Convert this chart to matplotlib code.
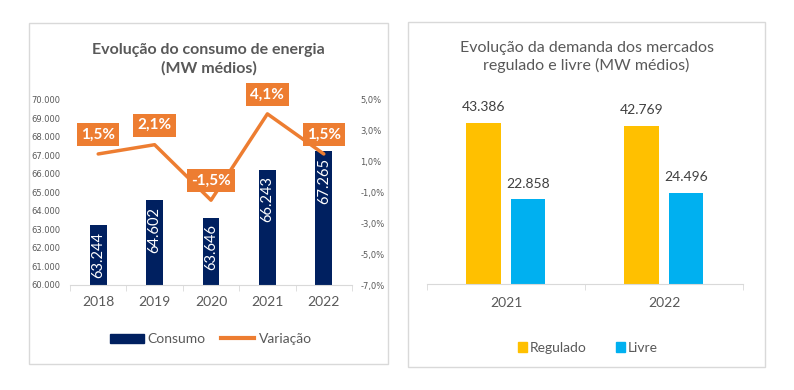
import matplotlib
matplotlib.use("Agg")
import matplotlib.pyplot as plt
from matplotlib.patches import Rectangle, Patch
from matplotlib.lines import Line2D
import numpy as np

plt.rcParams['font.family'] = ['Lato', 'DejaVu Sans']

# data
anos = ["2018", "2019", "2020", "2021", "2022"]
consumo = [63244, 64602, 63646, 66243, 67265]
variacao = [1.5, 2.1, -1.5, 4.1, 1.5]

anos_mercado = ["2021", "2022"]
regulado = [43386, 42769]
livre = [22858, 24496]

NAVY = "#002060"
ORANGE = "#ED7D31"
GOLD = "#FFC000"
BLUE = "#00B0F0"
GRAY = "#595959"
LIGHT = "#D9D9D9"

W, H = 794, 390


def fmt_br(v):
    return f"{v:,.0f}".replace(",", ".")


def fmt_pct(v):
    return f"{v:.1f}%".replace(".", ",")


def px_rect(x0, y0, x1, y1):
    # pixel box (top-left origin) -> figure fraction [l, b, w, h]
    return [x0 / W, 1 - y1 / H, (x1 - x0) / W, (y1 - y0) / H]


fig = plt.figure(figsize=(W / 100, H / 100), dpi=100)

# panel borders
for box in [(29, 23, 388, 364), (408, 22, 765, 367)]:
    l, b, w, h = px_rect(*box)
    fig.add_artist(Rectangle((l, b), w, h, transform=fig.transFigure,
                             fill=False, ec=LIGHT, lw=1))

# ---------- left chart ----------
ax = fig.add_axes(px_rect(70, 100, 352, 285))
x = np.arange(len(anos))
ax.bar(x, consumo, width=0.3, color=NAVY, zorder=2)
ax.set_ylim(60000, 70000)
ax.set_xlim(-0.5, len(anos) - 0.5)
ax.set_yticks(np.arange(60000, 70001, 1000))
ax.set_yticklabels([fmt_br(v) for v in np.arange(60000, 70001, 1000)],
                   fontsize=6, color=GRAY, family="DejaVu Sans")
ax.set_xticks(x)
ax.set_xticklabels(anos, fontsize=10, color=GRAY)
ax.set_xticks(np.arange(-0.5, len(anos), 1), minor=True)
ax.tick_params(axis="x", which="major", length=0, pad=8)
ax.tick_params(axis="x", which="minor", length=4.5, color=LIGHT)
ax.tick_params(axis="y", length=0, pad=7)
for s in ["top", "left", "right"]:
    ax.spines[s].set_visible(False)
ax.spines["bottom"].set_color(LIGHT)

for xi, v in zip(x, consumo):
    ax.annotate(fmt_br(v), (xi, v), xytext=(0, -5), textcoords="offset points",
                rotation=90, ha="center", va="top", color="white", fontsize=10.5)

ax2 = ax.twinx()
ax2.plot(x, variacao, color=ORANGE, lw=2.5, solid_capstyle="round", zorder=3)
ax2.set_ylim(-7, 5)
ax2.set_yticks(np.arange(-7, 5.1, 2))
ax2.set_yticklabels([fmt_pct(v) for v in np.arange(-7, 5.1, 2)],
                    fontsize=6, color=GRAY, family="DejaVu Sans")
ax2.tick_params(axis="y", length=0, pad=6)
for s in ["top", "left", "right", "bottom"]:
    ax2.spines[s].set_visible(False)
for xi, v in zip(x, variacao):
    ax2.annotate(fmt_pct(v), (xi, v), xytext=(0, 14), textcoords="offset points",
                 ha="center", va="center", color="white", fontsize=11,
                 fontweight="bold",
                 bbox=dict(boxstyle="square,pad=0.28", fc=ORANGE, ec="none"))

fig.text(208.5 / W, 1 - 59 / H, "Evolução do consumo de energia\n(MW médios)",
         ha="center", va="center", fontsize=11.5, fontweight="bold",
         color=GRAY, linespacing=1.35)

fig.legend([Patch(color=NAVY), Line2D([], [], color=ORANGE, lw=3)],
           ["Consumo", "Variação"], loc="center",
           bbox_to_anchor=(211 / W, 1 - 339 / H), ncol=2, frameon=False,
           fontsize=10, labelcolor=GRAY, handlelength=2.4, handleheight=0.6,
           handletextpad=0.3, columnspacing=1.1)

# ---------- right chart ----------
bx = fig.add_axes(px_rect(427, 98.8, 743, 284.3))
xm = np.arange(len(anos_mercado))
bx.bar(xm - 0.142, regulado, width=0.218, color=GOLD)
bx.bar(xm + 0.139, livre, width=0.218, color=BLUE)
bx.set_ylim(0, 50000)
bx.set_xlim(-0.5, len(anos_mercado) - 0.5)
bx.set_yticks([])
bx.set_xticks(xm)
bx.set_xticklabels(anos_mercado, fontsize=10, color=GRAY)
bx.set_xticks(np.arange(-0.5, len(anos_mercado), 1), minor=True)
bx.tick_params(axis="x", which="major", length=0, pad=9)
bx.tick_params(axis="x", which="minor", length=4.5, color=LIGHT)
for s in ["top", "left", "right"]:
    bx.spines[s].set_visible(False)
bx.spines["bottom"].set_color(LIGHT)

for xi, v in zip(xm - 0.142, regulado):
    bx.annotate(fmt_br(v), (xi, v), xytext=(0, 11.5), textcoords="offset points",
                ha="center", va="center", color="#404040", fontsize=10)
for xi, v in zip(xm + 0.139, livre):
    bx.annotate(fmt_br(v), (xi, v), xytext=(0, 11.5), textcoords="offset points",
                ha="center", va="center", color="#404040", fontsize=10)

fig.text(586.5 / W, 1 - 57 / H,
         "Evolução da demanda dos mercados\nregulado e livre (MW médios)",
         ha="center", va="center", fontsize=11.5, color=GRAY, linespacing=1.3)

fig.legend([Patch(color=GOLD), Patch(color=BLUE)], ["Regulado", "Livre"],
           loc="center", bbox_to_anchor=(587.5 / W, 1 - 348 / H), ncol=2,
           frameon=False, fontsize=10, labelcolor=GRAY, handlelength=0.65,
           handleheight=0.65, handletextpad=0.2, columnspacing=2.1)

fig.savefig("out.png", dpi=100, facecolor="white")
